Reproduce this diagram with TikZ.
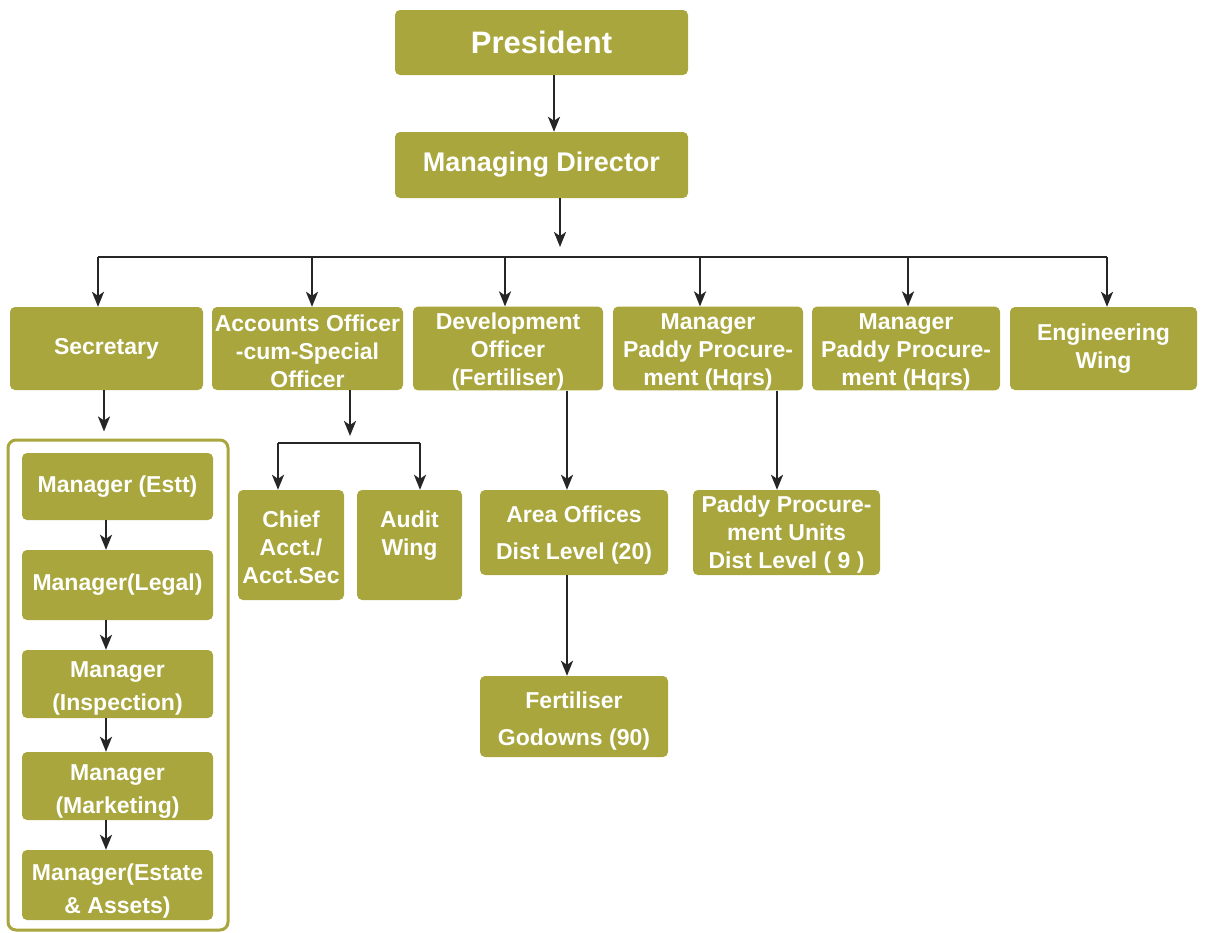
\documentclass[tikz,border=0pt]{standalone}
\usepackage{fontspec}
\setmainfont{Liberation Sans}
\usetikzlibrary{arrows.meta}
\definecolor{olv}{RGB}{168,166,60}
\newcommand{\topstrut}[1]{\rule{0pt}{#1}}
\tikzset{
  box/.style={rectangle, rounded corners=5pt, fill=olv, text=white,
    font=\bfseries\fontsize{23}{28}\selectfont, align=center, inner sep=0pt},
  wide/.style={font=\bfseries\fontsize{23}{33}\selectfont},
  wider/.style={font=\bfseries\fontsize{23}{37}\selectfont},
  arr/.style={draw=black!85, line width=2.4pt, -{Stealth[length=15pt,width=12pt,inset=4pt]}},
  ln/.style={draw=black!85, line width=2.4pt},
}
\begin{document}
\begin{tikzpicture}[x=1pt,y=-1pt]
\useasboundingbox (0,0) rectangle (1206,932);
% top
\node[box, minimum width=293pt, minimum height=65pt, font=\bfseries\fontsize{31}{34}\selectfont] (pres) at (541.5,42.5) {President};
\node[box, minimum width=293pt, minimum height=66pt, font=\bfseries\fontsize{27}{30}\selectfont] (md) at (541.5,165) {Managing Director};
% second row
\node[box, minimum width=193pt, minimum height=83pt] (sec) at (106.5,348.5) {Secretary};
\node[box, minimum width=191pt, minimum height=83pt] (acc) at (307.5,348.5) {\topstrut{23pt}Accounts Officer\\-cum-Special\\Officer};
\node[box, minimum width=190pt, minimum height=83pt] (dev) at (508,348.5) {\topstrut{23pt}Development\\Officer\\(Fertiliser)};
\node[box, minimum width=190pt, minimum height=83pt] (mpa) at (708,348.5) {\topstrut{23pt}Manager\\Paddy Procure-\\ment (Hqrs)};
\node[box, minimum width=188pt, minimum height=83pt] (mpb) at (906,348.5) {\topstrut{23pt}Manager\\Paddy Procure-\\ment (Hqrs)};
\node[box, minimum width=187pt, minimum height=83pt] (eng) at (1103.5,348.5) {Engineering\\Wing};
% secretary column
\node[draw=olv, line width=3pt, fill=white, rounded corners=8pt, minimum width=220pt, minimum height=490pt, inner sep=0pt] (frame) at (118,685) {};
\node[box, minimum width=191pt, minimum height=67pt] (estt) at (117.5,486.5) {Manager (Estt)};
\node[box, minimum width=191pt, minimum height=70pt] (legal) at (117.5,585) {Manager(Legal)};
\node[box, wide, minimum width=191pt, minimum height=68pt] (insp) at (117.5,684) {\topstrut{24pt}Manager\\(Inspection)};
\node[box, wide, minimum width=191pt, minimum height=68pt] (mkt) at (117.5,786) {\topstrut{27pt}Manager\\(Marketing)};
\node[box, wide, minimum width=191pt, minimum height=70pt] (est) at (117.5,885) {\topstrut{28pt}Manager(Estate\\\& Assets)};
% accounts children
\node[box, minimum width=106pt, minimum height=110pt] (chief) at (291,545) {\topstrut{21pt}Chief\\Acct./\\Acct.Sec};
\node[box, minimum width=105pt, minimum height=110pt] (audit) at (409.5,545) {\topstrut{21pt}Audit\\Wing\\\mbox{}};
% development children
\node[box, wider, minimum width=188pt, minimum height=85pt] (area) at (574,532.5) {\topstrut{21pt}Area Offices\\Dist Level (20)};
\node[box, wider, minimum width=188pt, minimum height=81pt] (fert) at (574,716.5) {\topstrut{25pt}Fertiliser\\Godowns (90)};
% paddy children
\node[box, minimum width=187pt, minimum height=85pt] (ppu) at (786.5,532.5) {\topstrut{21pt}Paddy Procure-\\ment Units\\Dist Level ( 9 )};
% connectors top
\draw[arr] ([xshift=12.5pt]pres.south) -- ([xshift=12.5pt]md.north);
\coordinate (bus) at (560,257);
\draw[arr] ([xshift=18.5pt]md.south) -- ([yshift=10pt]bus);
\coordinate (b1) at (98,257);
\coordinate (b2) at (312,257);
\coordinate (b3) at (505,257);
\coordinate (b4) at (700,257);
\coordinate (b5) at (908,257);
\coordinate (b6) at (1107,257);
\draw[ln] (b1) -- (b6);
\draw[arr] (b1) -- (b1 |- sec.north);
\draw[arr] (b2) -- (b2 |- acc.north);
\draw[arr] (b3) -- (b3 |- dev.north);
\draw[arr] (b4) -- (b4 |- mpa.north);
\draw[arr] (b5) -- (b5 |- mpb.north);
\draw[arr] (b6) -- (b6 |- eng.north);
% secretary
\draw[arr] ([xshift=-2.5pt]sec.south) -- ([xshift=-14pt,yshift=7pt]frame.north);
\draw[arr] ([xshift=-11.5pt]estt.south) -- ([xshift=-11.5pt]legal.north);
\draw[arr] ([xshift=-11.5pt]legal.south) -- ([xshift=-11.5pt]insp.north);
\draw[arr] ([xshift=-11.5pt]insp.south) -- ([xshift=-11.5pt]mkt.north);
\draw[arr] ([xshift=-11.5pt]mkt.south) -- ([xshift=-11.5pt]est.north);
% accounts
\coordinate (abus) at (350,443);
\coordinate (c1) at (278,443);
\coordinate (c2) at (420,443);
\draw[arr] ([xshift=42.5pt]acc.south) -- ([yshift=7pt]abus);
\draw[ln] (c1) -- (c2);
\draw[arr] (c1) -- (c1 |- chief.north);
\draw[arr] (c2) -- (c2 |- audit.north);
% development
\draw[arr] ([xshift=59pt]dev.south) -- ([xshift=-7pt]area.north);
\draw[arr] ([xshift=-7pt]area.south) -- ([xshift=-7pt]fert.north);
% paddy
\draw[arr] ([xshift=69pt]mpa.south) -- ([xshift=-9.5pt]ppu.north);
\end{tikzpicture}
\end{document}
